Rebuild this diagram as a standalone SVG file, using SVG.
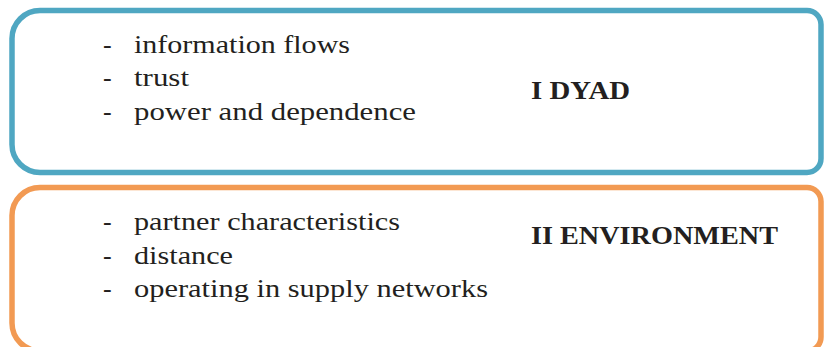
<svg xmlns="http://www.w3.org/2000/svg" width="824" height="347" viewBox="0 0 824 347">
  <style>
    .frame { fill: none; stroke-width: 5.5; }
    .dyad { stroke: #4fa7c2; }
    .env { stroke: #f29a53; }
    .item { font-family: "Liberation Serif", serif; font-size: 26px; fill: #231f20; }
    .title { font-family: "Liberation Serif", serif; font-size: 25px; font-weight: bold; fill: #231f20; }
  </style>
  <rect width="824" height="347" fill="#ffffff"/>

  <g id="dyad">
    <path class="frame dyad" d="M40,10.5 H807 A14,14 0 0 1 821,24.5 V158.5 A14,14 0 0 1 807,172.5 H40 A28,28 0 0 1 12,144.5 V38.5 A28,28 0 0 1 40,10.5 Z"/>
    <text class="item" x="103" y="53">-</text>
    <text class="item" x="134" y="53" textLength="216" lengthAdjust="spacingAndGlyphs">information flows</text>
    <text class="item" x="103" y="86">-</text>
    <text class="item" x="134" y="86" textLength="55" lengthAdjust="spacingAndGlyphs">trust</text>
    <text class="item" x="103" y="120">-</text>
    <text class="item" x="134" y="120" textLength="282" lengthAdjust="spacingAndGlyphs">power and dependence</text>
    <text class="title" x="531" y="99" textLength="99" lengthAdjust="spacingAndGlyphs">I DYAD</text>
  </g>

  <g id="environment">
    <path class="frame env" d="M40,187.5 H807 A14,14 0 0 1 821,201.5 V337 A14,14 0 0 1 807,351 H40 A28,28 0 0 1 12,323 V215.5 A28,28 0 0 1 40,187.5 Z"/>
    <text class="item" x="103" y="230">-</text>
    <text class="item" x="134" y="230" textLength="266" lengthAdjust="spacingAndGlyphs">partner characteristics</text>
    <text class="item" x="103" y="264">-</text>
    <text class="item" x="134" y="264" textLength="99" lengthAdjust="spacingAndGlyphs">distance</text>
    <text class="item" x="103" y="297">-</text>
    <text class="item" x="134" y="297" textLength="354" lengthAdjust="spacingAndGlyphs">operating in supply networks</text>
    <text class="title" x="531" y="244" textLength="247" lengthAdjust="spacingAndGlyphs">II ENVIRONMENT</text>
  </g>

  <g id="connectors"/>
</svg>
